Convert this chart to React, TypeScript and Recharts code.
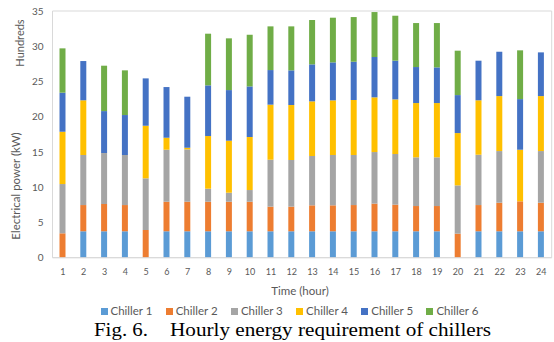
import React from "react";
import { BarChart, Bar, XAxis, YAxis, ReferenceArea } from "recharts";

const hours = ["1","2","3","4","5","6","7","8","9","10","11","12","13","14","15","16","17","18","19","20","21","22","23","24"];
const chiller1 = [0, 3.75, 3.75, 3.75, 0, 3.75, 3.75, 3.75, 3.75, 3.75, 3.75, 3.75, 3.75, 3.75, 3.75, 3.75, 3.75, 3.75, 3.75, 0, 3.75, 3.75, 3.75, 3.75];
const chiller2 = [3.46, 3.72, 3.87, 3.72, 3.93, 4.19, 4.19, 4.19, 4.19, 4.19, 3.49, 3.49, 3.68, 3.68, 3.72, 3.92, 3.77, 3.58, 3.58, 3.41, 3.72, 4.05, 4.25, 4.05];
const chiller3 = [6.99, 7.1, 7.23, 7.1, 7.33, 7.38, 7.43, 1.85, 1.28, 1.66, 6.66, 6.62, 7.0, 7.14, 7.1, 7.32, 7.19, 6.91, 6.91, 6.85, 7.14, 7.33, 0, 7.33];
const chiller4 = [7.42, 7.76, 0, 0, 7.46, 1.7, 0.23, 7.47, 7.38, 7.52, 7.81, 7.8, 7.75, 7.75, 7.8, 7.76, 7.75, 7.7, 7.7, 7.42, 7.72, 7.8, 7.32, 7.8];
const chiller5 = [5.54, 5.57, 5.95, 5.67, 6.72, 7.19, 7.24, 7.19, 7.18, 7.18, 4.91, 4.92, 5.25, 5.39, 5.43, 5.72, 5.49, 5.11, 5.06, 5.39, 5.62, 6.29, 7.18, 6.2];
const chiller6 = [6.29, 0, 6.44, 6.34, 0, 0, 0, 7.33, 7.34, 7.33, 6.2, 6.24, 6.29, 6.34, 6.34, 6.38, 6.38, 6.24, 6.29, 6.3, 0, 0, 6.92, 0];
const yTicks = [0, 5, 10, 15, 20, 25, 30, 35];

const seriesNames = ["Chiller 1", "Chiller 2", "Chiller 3", "Chiller 4", "Chiller 5", "Chiller 6"];
const seriesKeys = ["c1", "c2", "c3", "c4", "c5", "c6"];
const seriesColors = ["#5B9BD5", "#ED7D31", "#A5A5A5", "#FFC000", "#4472C4", "#70AD47"];
const seriesValues = [chiller1, chiller2, chiller3, chiller4, chiller5, chiller6];

const data = hours.map((h, i) => {
  const row: Record<string, any> = { hour: h };
  seriesKeys.forEach((k, j) => { row[k] = seriesValues[j][i]; });
  return row;
});

const FONT = "Lato, 'Open Sans', sans-serif";
const TEXT = "#595959";
const SERIF = "'Liberation Serif', 'Times New Roman', serif";

const LegendBox = () => (
  <div style={{ position: "absolute", left: 100.5, top: 304, display: "flex", fontFamily: FONT, fontSize: 11.5, color: TEXT, lineHeight: "14px" }}>
    {seriesNames.map((n, i) => (
      <div key={n} style={{ width: 65.2, display: "flex", alignItems: "center" }}>
        <span style={{ display: "inline-block", width: 7, height: 7, background: seriesColors[i], marginRight: 3 }} />
        <span>{n}</span>
      </div>
    ))}
  </div>
);

export default function App() {
  return (
    <div style={{ position: "absolute", left: 0, top: 0, width: 554, height: 342, background: "#fff" }}>
      <BarChart
        width={554}
        height={342}
        data={data}
        margin={{ top: 11, right: 2.3, bottom: 64.3, left: 0 }}
        barSize={6}
      >
        <XAxis
          dataKey="hour"
          height={20}
          interval={0}
          tickLine={false}
          tickSize={0}
          tickMargin={11}
          axisLine={{ stroke: "#D9D9D9" }}
          tick={{ fontSize: 9, fill: TEXT, fontFamily: FONT }}
        />
        <YAxis
          width={52.5}
          domain={[0, 35]}
          ticks={yTicks}
          interval={0}
          tickLine={false}
          tickSize={0}
          tickMargin={9}
          axisLine={false}
          tick={{ fontSize: 10, fill: TEXT, fontFamily: FONT }}
        />
        <ReferenceArea y1={0} y2={35} fill="none" stroke="#D9D9D9" strokeWidth={1} ifOverflow="visible" />
        {seriesKeys.map((k, i) => (
          <Bar key={k} dataKey={k} name={seriesNames[i]} stackId="a" fill={seriesColors[i]} isAnimationActive={false} />
        ))}
      </BarChart>
      <LegendBox />
      <svg width={554} height={342} style={{ position: "absolute", left: 0, top: 0, pointerEvents: "none" }}>
        <text x={0} y={0} transform="translate(24,43) rotate(-90)" textAnchor="middle" fontFamily={FONT} fontSize={11} fill={TEXT}>Hundreds</text>
        <text x={0} y={0} transform="translate(19.5,186) rotate(-90)" textAnchor="middle" fontFamily={FONT} fontSize={11.5} fill={TEXT}>Electrical power (kW)</text>
        <text x={300} y={295} textAnchor="middle" fontFamily={FONT} fontSize={11.5} fill={TEXT}>Time (hour)</text>
        <text x={94} y={335.5} fontFamily={SERIF} fontSize={19.5} fill="#000" textLength={54} lengthAdjust="spacingAndGlyphs">Fig. 6.</text>
        <text x={170} y={335.5} fontFamily={SERIF} fontSize={19.5} fill="#000" textLength={321} lengthAdjust="spacingAndGlyphs">Hourly energy requirement of chillers</text>
      </svg>
    </div>
  );
}
